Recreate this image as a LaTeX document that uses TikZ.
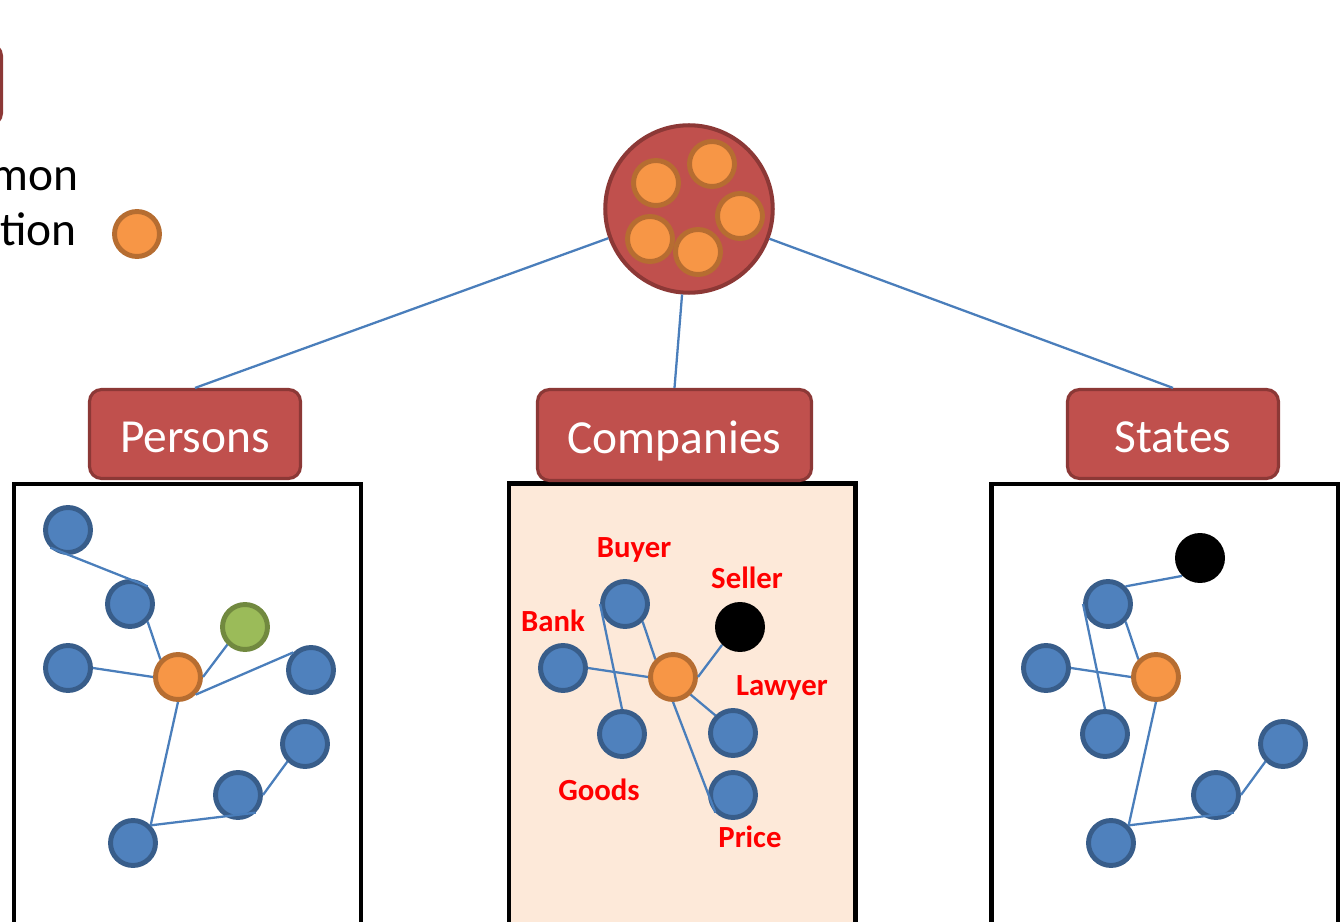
\documentclass[tikz,border=0pt]{standalone}
\usepackage{fontspec}
\setmainfont{Carlito}
\definecolor{boxred}{HTML}{C0504D}
\definecolor{boxedge}{HTML}{8C3836}
\definecolor{nodeblue}{HTML}{4F81BD}
\definecolor{nodeedge}{HTML}{385D8A}
\definecolor{hubfill}{HTML}{F79646}
\definecolor{hubedge}{HTML}{B66D31}
\definecolor{lonefill}{HTML}{9BBB59}
\definecolor{loneedge}{HTML}{71893F}
\definecolor{linkblue}{HTML}{4A7EBB}
\definecolor{peach}{HTML}{FDE9D9}
\tikzset{
  agent/.style={circle, inner sep=0pt, minimum size=0.9cm, line width=2.8pt, draw=nodeedge, fill=nodeblue},
  hub/.style={agent, draw=hubedge, fill=hubfill},
  lone/.style={agent, draw=loneedge, fill=lonefill},
  dark/.style={circle, inner sep=0pt, minimum size=1cm, fill=black},
  link/.style={draw=linkblue, line width=1.3pt},
  group/.style={draw=boxedge, fill=boxred, line width=1.8pt, rounded corners=0.24cm,
    text=white, font=\fontsize{27}{32}\selectfont, text height=21.5pt, text depth=0pt},
  role/.style={text=red, font=\fontsize{17.5}{20}\selectfont\bfseries, anchor=base},
  panel/.style={draw=black, line width=2.6pt}
}
\begin{document}
\begin{tikzpicture}[x=0.02cm, y=-0.02cm]
  \clip (0,0) rectangle (1340,922);

  \node[group, minimum width=2.06cm, minimum height=1.62cm] (tag) at (-50,84.5) {};
  \node[anchor=base east, inner sep=0pt, font=\fontsize{27}{32}\selectfont] (first) at (79,191) {mon};
  \node[anchor=base east, inner sep=0pt, font=\fontsize{27}{32}\selectfont] (second) at (77,246) {tion};
  \node[hub] (key) at (137,234) {};

  \node[circle, inner sep=0pt, minimum size=3.35cm, line width=2.3pt, draw=boxedge, fill=boxred] (big) at (689,209) {};
  \node[hub] (h1) at (656,183) {};
  \node[hub] (h2) at (712,164) {};
  \node[hub] (h3) at (740,216) {};
  \node[hub] (h4) at (650,239) {};
  \node[hub] (h5) at (698,252) {};

  \draw[panel] (14,484) rectangle (361,960);
  \draw[panel, fill=peach] (509,483.5) rectangle (855.5,960);
  \draw[panel] (991.5,484) rectangle (1338,960);

  \node[group, minimum width=4.22cm, minimum height=1.78cm] (persons) at (195,434) {Persons};
  \node[group, minimum width=5.48cm, minimum height=1.82cm] (companies) at (674.5,435) {Companies};
  \node[group, minimum width=4.22cm, minimum height=1.78cm] (states) at (1173,434) {States};

  \draw[link] (big) -- (persons.north);
  \draw[link] (big) -- (companies.north);
  \draw[link] (big) -- (states.north);

  \node[agent] (p1) at (68,530) {};
  \node[agent] (p2) at (130,604) {};
  \node[agent] (p3) at (68,668) {};
  \node[hub] (pc) at (178,677) {};
  \node[lone] (pg) at (245,627) {};
  \node[agent] (p4) at (311,670) {};
  \node[agent] (p5) at (305,744) {};
  \node[agent] (p6) at (238,795) {};
  \node[agent] (p7) at (133,843) {};
  \draw[link] (p1.south west) -- (p2.north east);
  \draw[link] (p2.south east) -- (pc.north west);
  \draw[link] (p3.east) -- (pc.west);
  \draw[link] (pg.south west) -- (pc.east);
  \draw[link] (p4.north west) -- (pc.south east);
  \draw[link] (pc.south) -- (p7.north east);
  \draw[link] (p7.north east) -- (p6.south east);
  \draw[link] (p6.east) -- (p5.south west);

  \node[agent] (buyer) at (625,604) {};
  \node[agent] (bank) at (563,668) {};
  \node[hub] (deal) at (673,677) {};
  \node[dark] (seller) at (740,627) {};
  \node[agent] (goods) at (622,734) {};
  \node[agent] (lawyer) at (733,733) {};
  \node[agent] (price) at (733,795) {};
  \node[role] (buyertext) at (634,557) {Buyer};
  \node[role] (sellertext) at (747,588) {Seller};
  \node[role] (banktext) at (553,631) {Bank};
  \node[role] (lawyertext) at (782,695) {Lawyer};
  \node[role] (goodstext) at (599,800) {Goods};
  \node[role] (pricetext) at (750,847) {Price};
  \draw[link] (buyer.west) -- (goods.north);
  \draw[link] (buyer.south east) -- (deal.north west);
  \draw[link] (bank.east) -- (deal.west);
  \draw[link] (seller.south west) -- (deal.east);
  \draw[link] (deal.south east) -- (lawyer.north west);
  \draw[link] (deal.south) -- (price.south west);

  \node[dark] (sdark) at (1200,558) {};
  \node[agent] (s1) at (1108,604) {};
  \node[agent] (s2) at (1046,668) {};
  \node[hub] (sc) at (1156,677) {};
  \node[agent] (s3) at (1105,734) {};
  \node[agent] (s4) at (1283,744) {};
  \node[agent] (s5) at (1216,795) {};
  \node[agent] (s6) at (1111,843) {};
  \draw[link] (s1.north east) -- (sdark.south west);
  \draw[link] (s1.south east) -- (sc.north west);
  \draw[link] (s2.east) -- (sc.west);
  \draw[link] (s1.west) -- (s3.north);
  \draw[link] (sc.south) -- (s6.north east);
  \draw[link] (s6.north east) -- (s5.south east);
  \draw[link] (s5.east) -- (s4.south west);
\end{tikzpicture}
\end{document}
